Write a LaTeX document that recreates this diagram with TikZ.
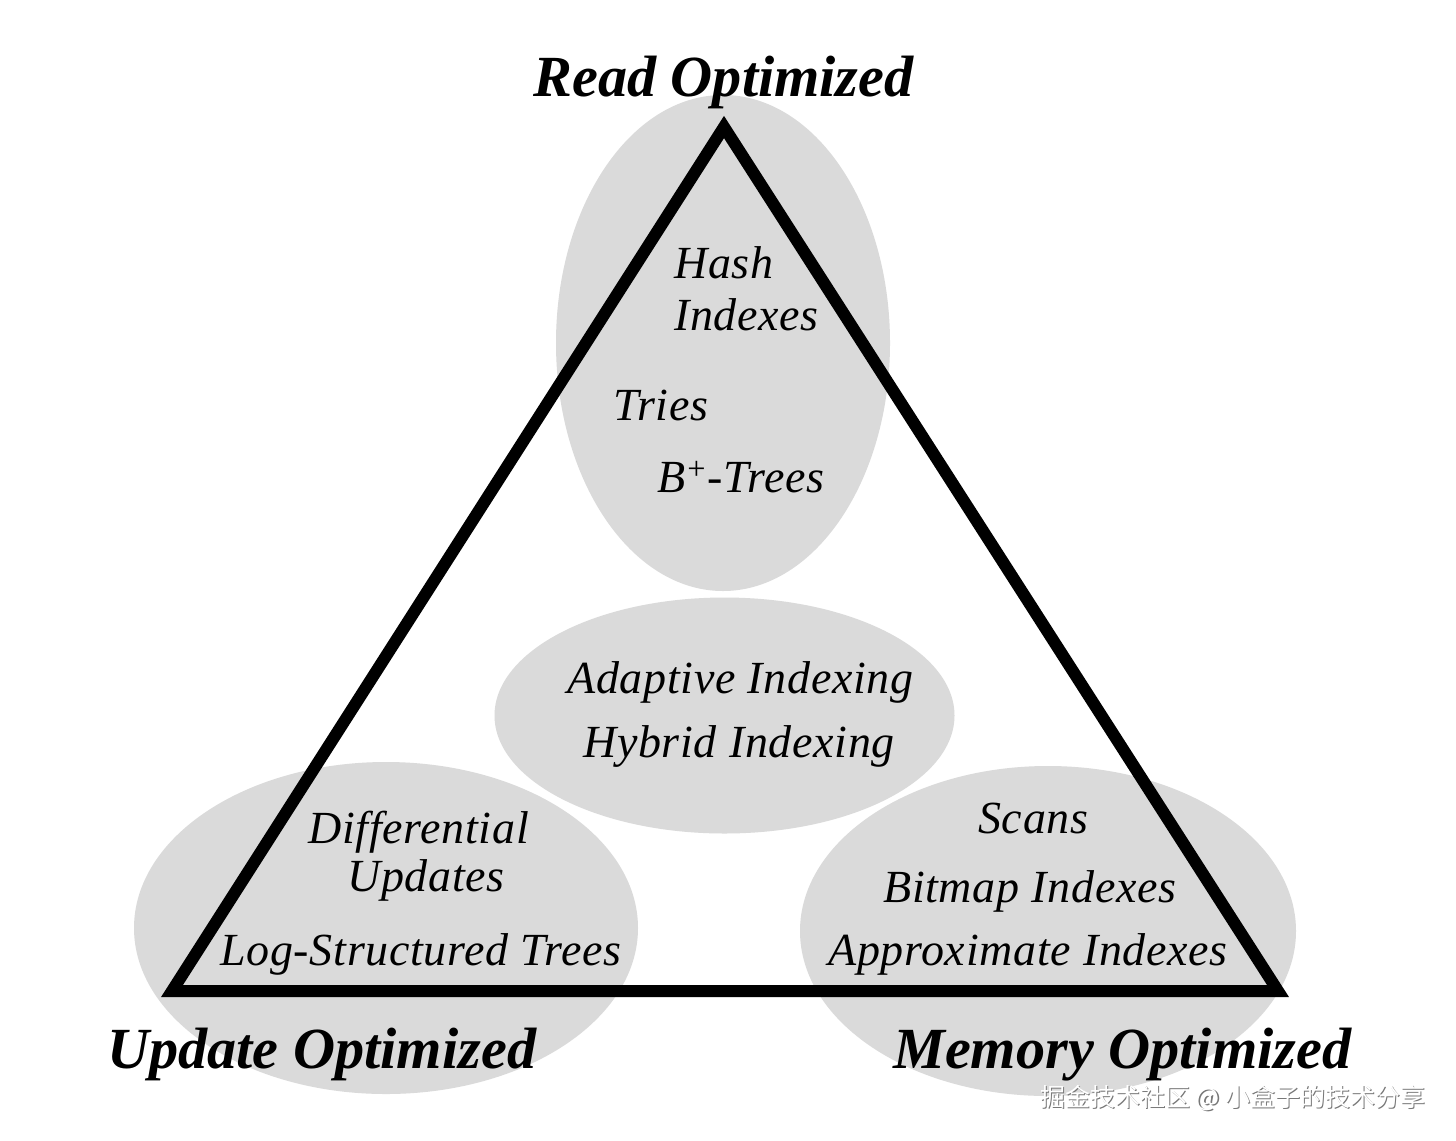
\documentclass[tikz,border=0pt]{standalone}
\usepackage{fontspec}
\setmainfont{Liberation Serif}
\newfontfamily\itemfont[LetterSpace=1.5]{Liberation Serif}
\newfontfamily\cjk{Noto Sans CJK SC}
\definecolor{ellgray}{RGB}{218,218,218}
\definecolor{wmshadow}{RGB}{120,120,120}
\begin{document}
\begin{tikzpicture}[x=0.75pt,y=-0.75pt,
  title/.style={anchor=base west,inner sep=0pt,font=\fontsize{43.7pt}{50pt}\selectfont\bfseries\itshape},
  item/.style={anchor=base west,inner sep=0pt,font=\fontsize{34.5pt}{40pt}\itemfont\itshape},
  wm/.style={anchor=base west,inner sep=0pt,font=\fontsize{18.75pt}{22pt}\selectfont\cjk}]
\useasboundingbox (0,0) rectangle (1456,1140);
\fill[white] (0,0) rectangle (1456,1140);
% ellipses
\fill[ellgray] (723,343) ellipse [x radius=125.25pt, y radius=186pt];
\fill[ellgray] (724.5,715.5) ellipse [x radius=172.5pt, y radius=88.5pt];
\fill[ellgray] (386,928) ellipse [x radius=189pt, y radius=124.5pt];
\fill[ellgray] (1048,931) ellipse [x radius=186pt, y radius=123.75pt];
% triangle
\coordinate (top) at (724,127);
\coordinate (bl) at (172,991);
\coordinate (br) at (1278,991);
\draw[line width=9pt, miter limit=10, line join=miter] (top) -- (br) -- (bl) -- cycle;
% titles
\node[title] (tread) at (533,96) {Read Optimized};
\node[title] (tupd) at (107,1068) {Update Optimized};
\node[title] (tmem) at (893,1068) {Memory Optimized};
% read items
\node[item] (hash) at (674,278) {Hash};
\node[item] (hidx) at (674,330) {Indexes};
\node[item] (tries) at (613,420) {Tries};
\node[item] (bpt) at (657,492) {B\textsuperscript{+}-Trees};
% middle
\node[item] (adapt) at (567,693) {Adaptive Indexing};
\node[item] (hybrid) at (583,757) {Hybrid Indexing};
% update
\node[item] (diff) at (308,843) {Differential};
\node[item] (upds) at (347,891) {Updates};
\node[item] (lsm) at (220,965) {Log-Structured Trees};
% memory
\node[item] (scans) at (978,833) {Scans};
\node[item] (bitmap) at (883,902) {Bitmap Indexes};
\node[item] (approx) at (828,965) {Approximate Indexes};
% watermark
\node[wm,text=wmshadow] (wmsh) at (1041.5,1107.5) {掘金技术社区 @ 小盒子的技术分享};
\node[wm,text=white] (wmtxt) at (1040,1106) {掘金技术社区 @ 小盒子的技术分享};
\end{tikzpicture}
\end{document}
